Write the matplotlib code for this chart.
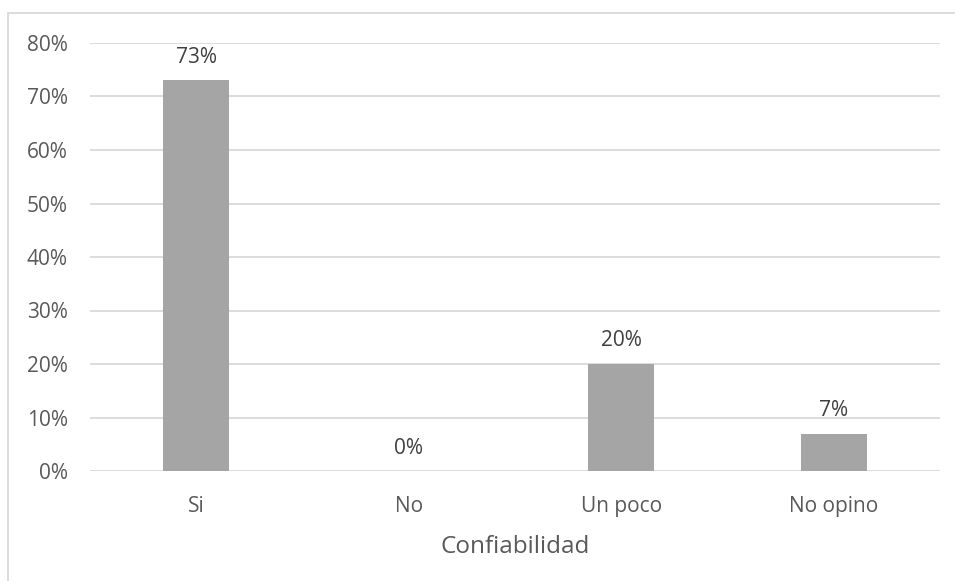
import matplotlib
matplotlib.use("Agg")
import matplotlib.pyplot as plt
from matplotlib.patches import Rectangle
from matplotlib.ticker import MultipleLocator, FuncFormatter

categories = ["Si", "No", "Un poco", "No opino"]
values = [73, 0, 20, 7]
value_labels = ["73%", "0%", "20%", "7%"]

plt.rcParams['font.family'] = ['Open Sans', 'DejaVu Sans']
W, H = 955, 581
fig = plt.figure(figsize=(W/100, H/100), dpi=100)
ax = fig.add_axes([90/W, 1-471/H, 850/W, 428/H])

text_c = '#595959'
ax.bar(range(len(categories)), values, width=0.31, color='#A5A5A5', zorder=3)
ax.set_xlim(-0.5, len(categories)-0.5)
ax.set_ylim(0, 80)
ax.yaxis.set_major_locator(MultipleLocator(10))
ax.yaxis.set_major_formatter(FuncFormatter(lambda v, p: f"{v:.0f}%"))
ax.grid(axis='y', color='#D9D9D9', linewidth=1.3, zorder=0)
for s in ax.spines.values():
    s.set_visible(False)
ax.tick_params(axis='both', length=0, colors=text_c, labelsize=15)
ax.tick_params(axis='y', pad=16)
ax.tick_params(axis='x', pad=18)
ax.set_xticks(range(len(categories)))
ax.set_xticklabels(categories)
ax.set_xlabel("Confiabilidad", color=text_c, fontsize=17.5, labelpad=13)
for i, (v, lab) in enumerate(zip(values, value_labels)):
    ax.annotate(lab, (i, v), xytext=(0, 9), textcoords='offset points',
                ha='center', va='bottom', color='#404040', fontsize=15)

fig.patches.append(Rectangle((8/W, -0.2), 1.2, 1.2-13/H, transform=fig.transFigure,
                             fill=False, edgecolor='#D9D9D9', linewidth=1.3))
fig.savefig("out.png", dpi=100)
